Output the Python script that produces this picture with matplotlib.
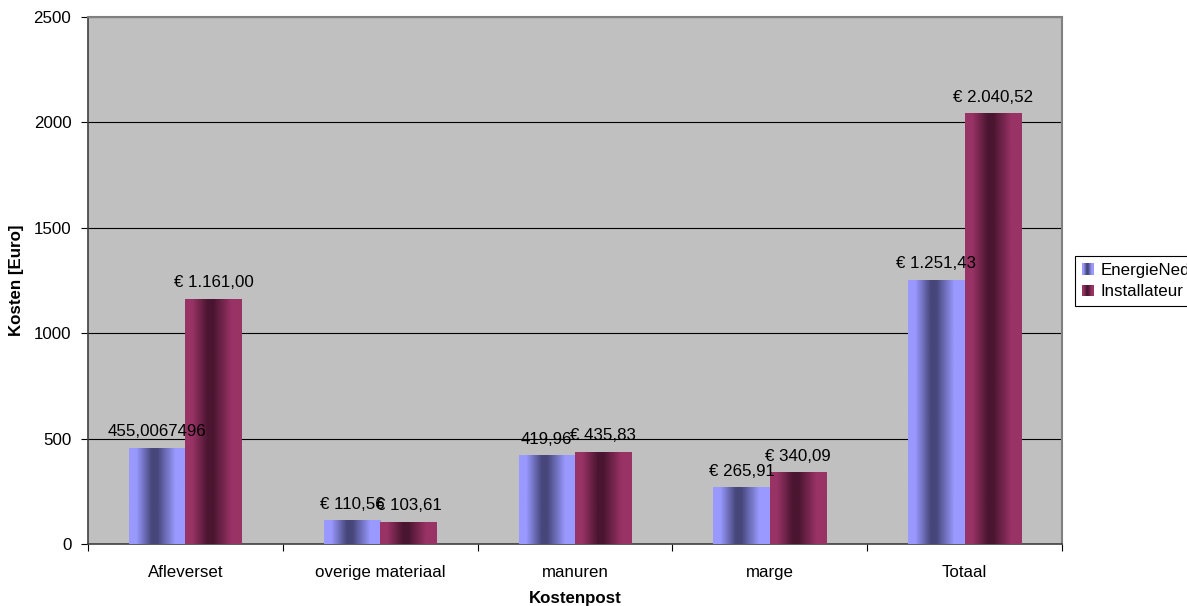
import numpy as np
import matplotlib
matplotlib.use("Agg")
import matplotlib.pyplot as plt
from matplotlib.colors import LinearSegmentedColormap
from matplotlib.patches import Rectangle
from matplotlib.legend_handler import HandlerBase

# === Données ===
categories = ["Afleverset", "overige materiaal", "manuren", "marge", "Totaal"]
series_names = ["EnergieNed", "Installateur"]
energiened = [455.0067496, 110.56, 419.96, 265.91, 1251.43]
installateur = [1161.00, 103.61, 435.83, 340.09, 2040.52]
labels_energiened = ["455,0067496", "€ 110,56", "419,96", "€ 265,91", "€ 1.251,43"]
labels_installateur = ["€ 1.161,00", "€ 103,61", "€ 435,83", "€ 340,09", "€ 2.040,52"]
yticks = [0, 500, 1000, 1500, 2000, 2500]

FS = 12.2
plt.rcParams["font.family"] = ["Liberation Sans", "DejaVu Sans"]
plt.rcParams["font.size"] = FS

# dégradés horizontaux façon Excel (clair - sombre - clair)
def make_cmap(light, dark):
    return LinearSegmentedColormap.from_list(
        "g", [(0.0, light), (0.12, light), (0.40, dark), (0.50, dark),
              (0.82, light), (1.0, light)])

cmaps = [make_cmap("#9999FF", "#46467A"), make_cmap("#993366", "#4A1530")]
grad = np.linspace(0, 1, 64).reshape(1, -1)

fig = plt.figure(figsize=(11.87, 6.06), dpi=100)
ax = fig.add_axes([88 / 1187, 1 - 544 / 606, 974 / 1187, 527 / 606])
ax.set_facecolor("#C0C0C0")

x = np.arange(len(categories))
w = 0.29
for k, (vals, labs) in enumerate([(energiened, labels_energiened),
                                   (installateur, labels_installateur)]):
    bars = ax.bar(x + (k - 0.5) * w, vals, w, color="none", zorder=3)
    for b, lab in zip(bars, labs):
        x0, h = b.get_x(), b.get_height()
        ax.imshow(grad, cmap=cmaps[k], aspect="auto", interpolation="bilinear",
                  extent=(x0, x0 + b.get_width(), 0, h), zorder=3)
        ax.annotate(lab, (x0 + b.get_width() / 2, h), xytext=(0, 8.5),
                    textcoords="offset points", ha="center", va="baseline",
                    fontsize=FS, zorder=5)

ax.set_xlim(-0.5, len(categories) - 0.5)
ax.set_ylim(0, 2500)
ax.set_yticks(yticks)
ax.yaxis.grid(True, color="#000000", linewidth=0.8, zorder=1)
ax.set_axisbelow(True)

ax.set_xticks(x)
ax.set_xticklabels(categories)
ax.tick_params(axis="x", length=0, pad=15)
ax.set_xticks(np.arange(-0.5, len(categories)), minor=True)
ax.tick_params(axis="x", which="minor", length=5, color="#000000", width=0.8)
ax.tick_params(axis="y", length=5, width=0.8, pad=7)

for s in ["left", "bottom"]:
    ax.spines[s].set_color("#404040")
    ax.spines[s].set_linewidth(1.2)
for s in ["top", "right"]:
    ax.spines[s].set_color("#808080")
    ax.spines[s].set_linewidth(1.5)

ax.set_xlabel("Kostenpost", fontweight="bold", labelpad=8)
ax.set_ylabel("Kosten [Euro]", fontweight="bold", labelpad=7)


class GradientHandler(HandlerBase):
    def __init__(self, cmap):
        super().__init__()
        self.cmap = cmap

    def create_artists(self, legend, orig_handle, xdescent, ydescent,
                       width, height, fontsize, trans):
        n = 12
        arts = []
        for i in range(n):
            arts.append(Rectangle((-xdescent + i * width / n, -ydescent),
                                  width / n, height,
                                  facecolor=self.cmap((i + 0.5) / n),
                                  edgecolor="none", transform=trans))
        return arts


handles = [Rectangle((0, 0), 1, 1), Rectangle((0, 0), 1, 1)]
leg = fig.legend(handles, series_names, loc="center left",
                 bbox_to_anchor=(1075 / 1187, 1 - 281 / 606),
                 handler_map={handles[0]: GradientHandler(cmaps[0]),
                              handles[1]: GradientHandler(cmaps[1])},
                 handlelength=0.7, handleheight=0.7, handletextpad=0.4,
                 fancybox=False, edgecolor="#000000", framealpha=1,
                 borderpad=0.4, labelspacing=0.4, borderaxespad=0,
                 fontsize=FS)
leg.get_frame().set_linewidth(0.8)

fig.savefig("out.png", dpi=100)
